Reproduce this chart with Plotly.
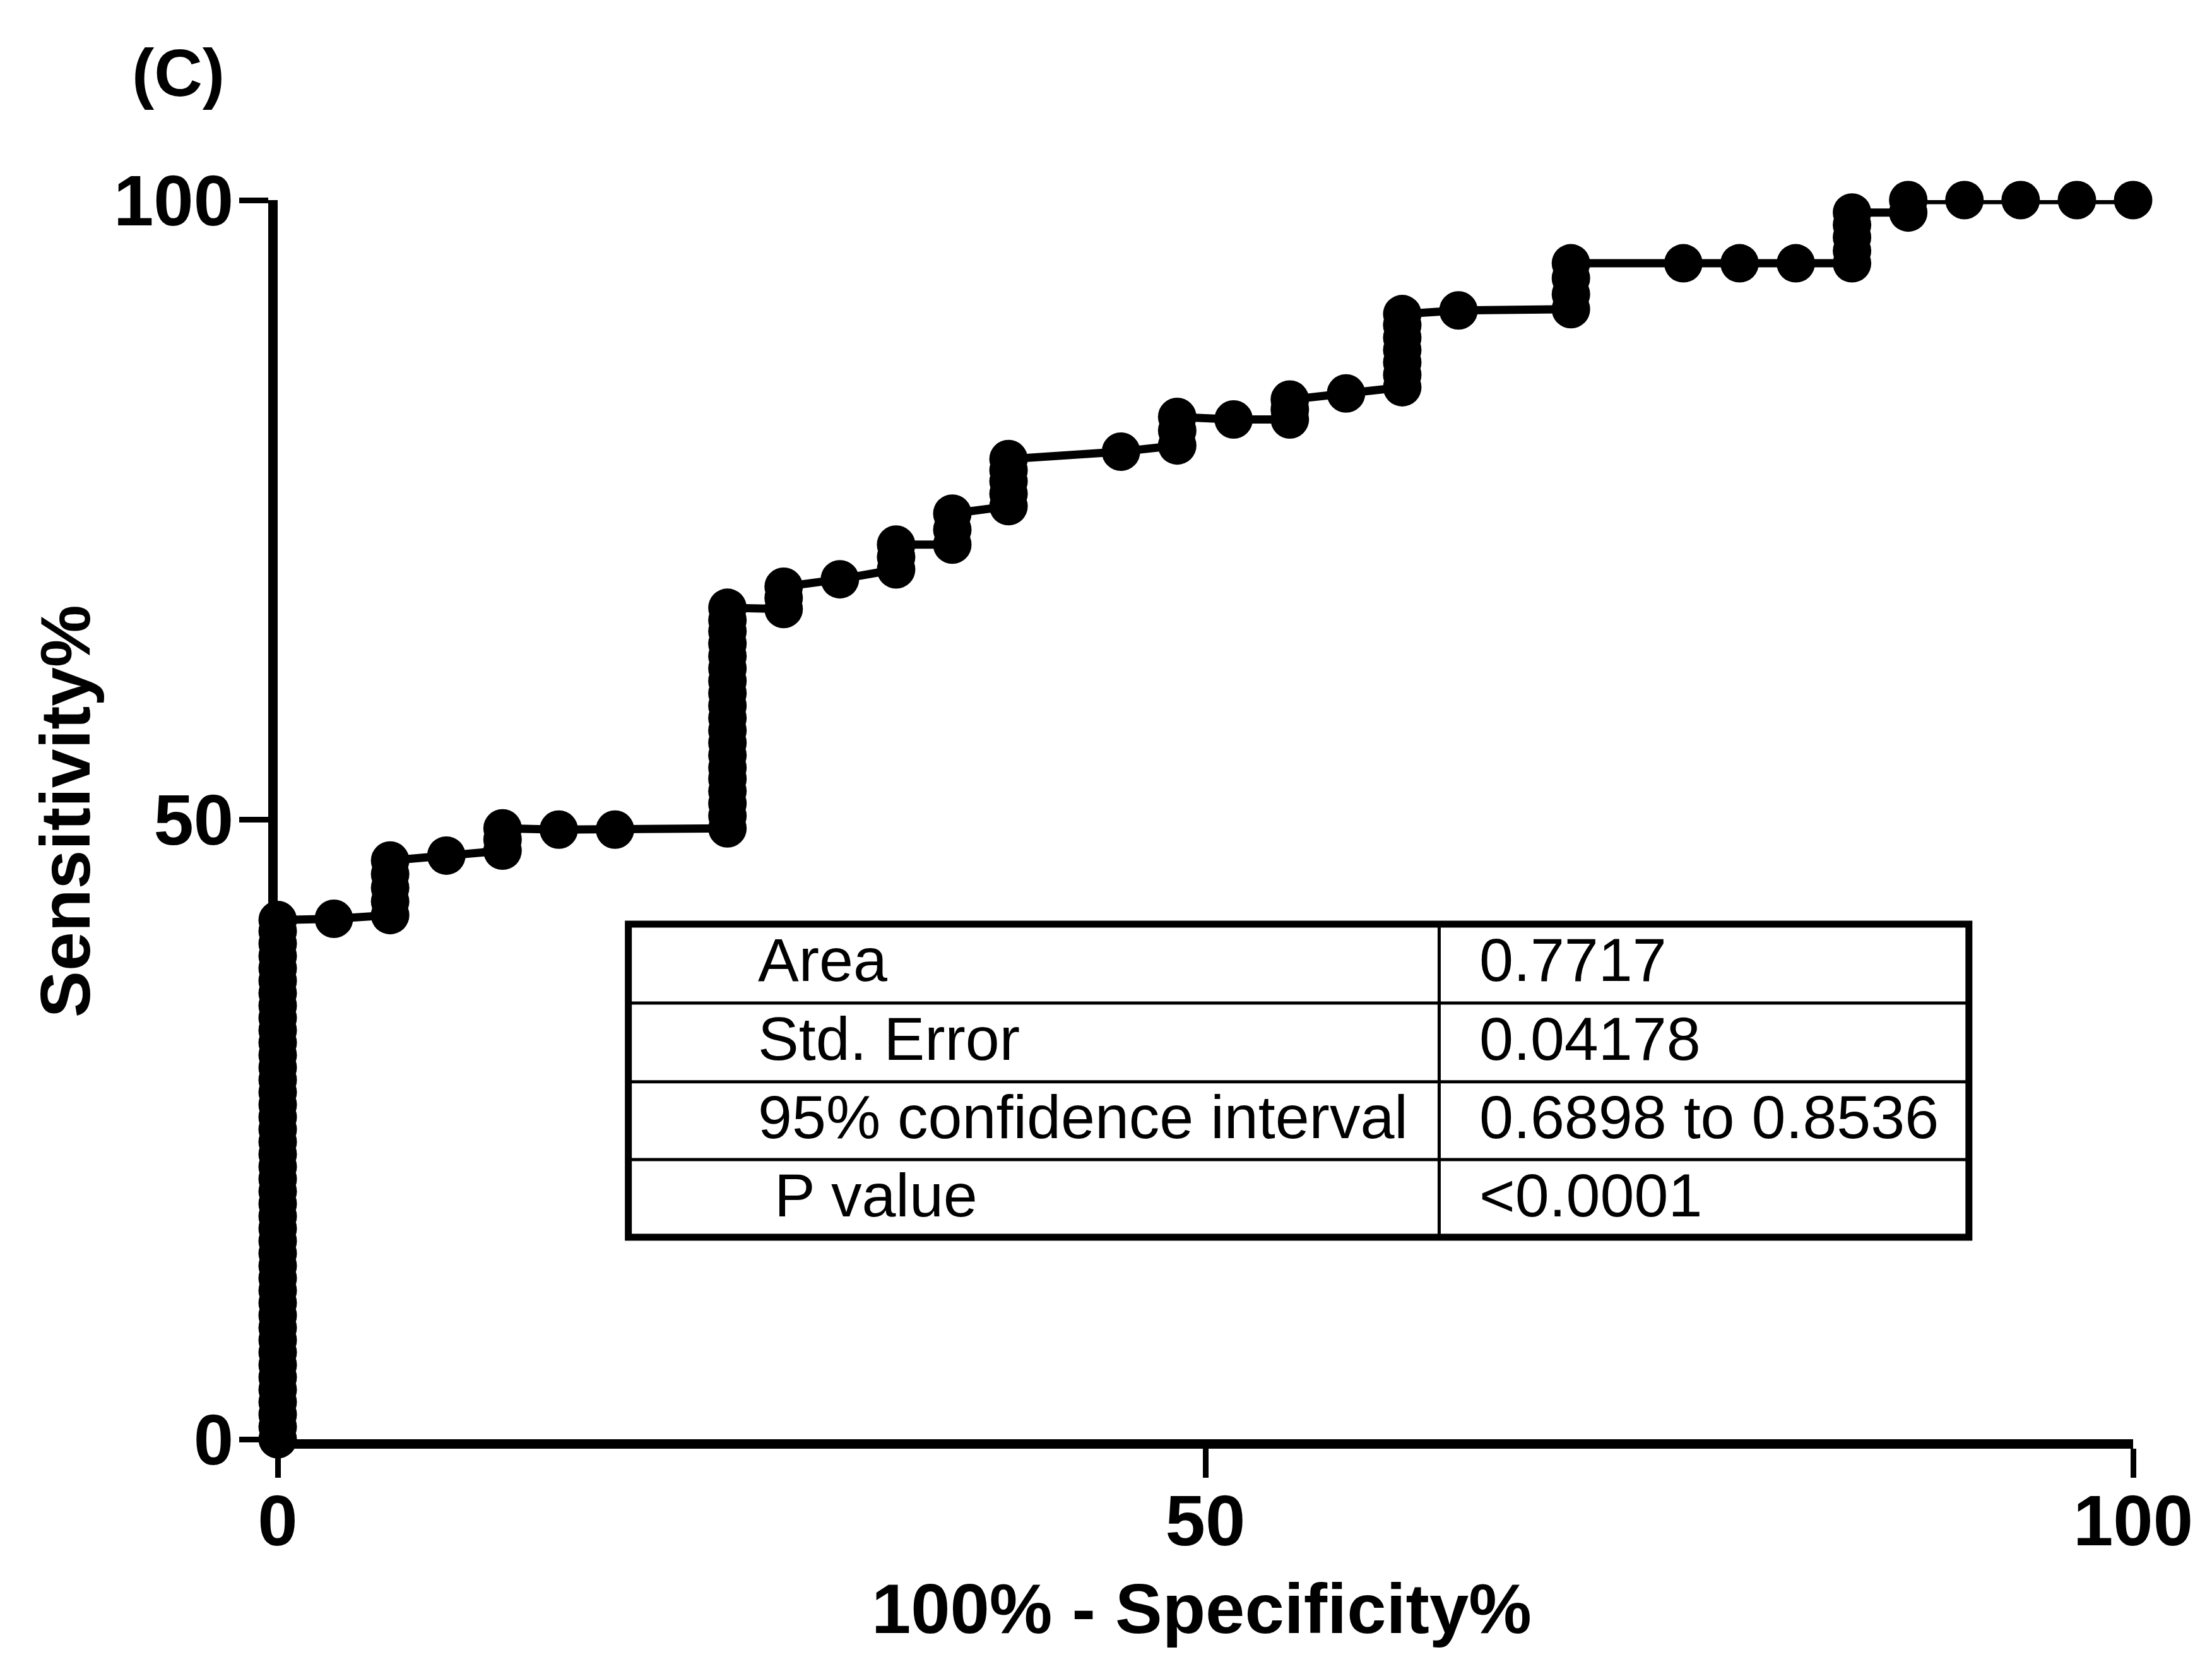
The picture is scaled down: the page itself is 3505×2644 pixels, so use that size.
import plotly.graph_objects as go

# ---------------- data ----------------
# 100% - Specificity% (x) and Sensitivity% (y) of every ROC point, in order
roc_fpr = [
    0, 0, 0, 0, 0, 0, 0, 0, 0, 0, 0, 0, 0, 0, 0, 0, 0, 0, 0, 0, 0, 0,
    0, 0, 0, 0, 0, 0, 0, 0, 0, 0, 0, 0, 0, 0, 0, 0, 0, 0, 0, 0, 0,
    3.03,
    6.06, 6.06, 6.06, 6.06, 6.06,
    9.09,
    12.12, 12.12, 12.12,
    15.15,
    18.18,
    24.24, 24.24, 24.24, 24.24, 24.24, 24.24, 24.24, 24.24, 24.24, 24.24,
    24.24, 24.24, 24.24, 24.24, 24.24, 24.24, 24.24, 24.24, 24.24,
    27.27, 27.27, 27.27,
    30.30,
    33.33, 33.33, 33.33,
    36.36, 36.36, 36.36,
    39.39, 39.39, 39.39, 39.39, 39.39,
    45.45,
    48.48, 48.48, 48.48,
    51.52,
    54.55, 54.55, 54.55,
    57.58,
    60.61, 60.61, 60.61, 60.61, 60.61, 60.61, 60.61,
    63.64,
    69.70, 69.70, 69.70, 69.70,
    75.76,
    78.79,
    81.82,
    84.85, 84.85, 84.85, 84.85, 84.85,
    87.88, 87.88,
    90.91,
    93.94,
    96.97,
    100.0,
]
roc_sens = [
    0, 1, 2, 3, 4, 5, 6, 7, 8, 9, 10, 11, 12, 13, 14, 15, 16, 17, 18, 19, 20, 21,
    22, 23, 24, 25, 26, 27, 28, 29, 30, 31, 32, 33, 34, 35, 36, 37, 38, 39, 40, 41, 41.9,
    42.0,
    42.3, 43.4, 44.5, 45.6, 46.7,
    47.1,
    47.5, 48.4, 49.3,
    49.2,
    49.2,
    49.3, 50.3, 51.3, 52.3, 53.3, 54.2, 55.2, 56.2, 57.2, 58.2,
    59.2, 60.2, 61.2, 62.2, 63.2, 64.2, 65.2, 66.1, 67.1,
    67.0, 67.9, 68.8,
    69.4,
    70.2, 71.2, 72.2,
    72.2, 73.4, 74.7,
    75.3, 76.3, 77.3, 78.2, 79.1,
    79.7,
    80.2, 81.4, 82.5,
    82.3,
    82.3, 83.1, 83.9,
    84.4,
    84.9, 85.9, 86.9, 87.9, 88.9, 89.9, 90.8,
    91.1,
    91.2, 92.4, 93.7, 94.9,
    94.9,
    94.9,
    94.9,
    94.9, 95.9, 97.0, 98.0, 99.0,
    99.0, 100.0,
    100.0,
    100.0,
    100.0,
    100.0,
]

tick_vals = [0, 50, 100]
tick_text = ["0", "50", "100"]

table_labels = ["Area", "Std. Error", "95% confidence interval", "P value"]
table_values = ["0.7717", "0.04178", "0.6898 to 0.8536", "<0.0001"]

panel_label = "(C)"
x_title = "100% - Specificity%"
y_title = "Sensitivity%"

# ---------------- styling / layout ----------------
FONT = "Liberation Sans, Arial, Helvetica, sans-serif"
# page body has an 8px margin, so the figure is drawn 8px in from the top-left
W, H = 3497, 2636
L, R, T, B = 432, 125, 309, 364

fig = go.Figure()
fig.add_trace(go.Scatter(
    x=roc_fpr, y=roc_sens, mode="lines+markers",
    line=dict(color="black", width=13),
    marker=dict(color="black", size=61, symbol="circle", line=dict(width=0)),
    cliponaxis=False, showlegend=False, hoverinfo="skip",
))

axis_common = dict(
    range=[0, 100], tickmode="array", tickvals=tick_vals, ticktext=tick_text,
    showgrid=False, zeroline=False, showline=True, linecolor="black", linewidth=15,
    ticks="outside", ticklen=46, tickwidth=9, tickcolor="black",
    tickfont=dict(family=FONT, size=114, color="black", weight="bold"),
    fixedrange=True,
)

fig.update_layout(
    width=W, height=H,
    margin=dict(l=L, r=R, t=T, b=B, autoexpand=False),
    paper_bgcolor="white", plot_bgcolor="white",
    xaxis=dict(**axis_common, ticklabelstandoff=-30),
    yaxis=dict(**axis_common, ticklabelstandoff=-14),
    showlegend=False,
)

# ---------------- table (layout box positions in data units) ----------------
tx0, tx1 = 18.9, 91.15
ty_top, ty_bot = 41.57, 16.30
col_div = 62.6
row_lines = [35.2, 28.85, 22.57]
row_centers = [38.7, 32.3, 26.0, 19.7]
label_x = [25.8, 25.8, 25.8, 26.7]
value_x = 64.7

shapes = []
shapes.append(dict(type="rect", xref="x", yref="y", x0=tx0, x1=tx1, y0=ty_bot, y1=ty_top,
                   line=dict(color="black", width=11), fillcolor="white", layer="above"))
for ry in row_lines:
    shapes.append(dict(type="line", xref="x", yref="y", x0=tx0, x1=tx1, y0=ry, y1=ry,
                       line=dict(color="black", width=5), layer="above"))
shapes.append(dict(type="line", xref="x", yref="y", x0=col_div, x1=col_div, y0=ty_bot, y1=ty_top,
                   line=dict(color="black", width=5), layer="above"))

annotations = []
for i, (lab, val) in enumerate(zip(table_labels, table_values)):
    annotations.append(dict(x=label_x[i], y=row_centers[i], xref="x", yref="y", text=lab,
                            showarrow=False, xanchor="left", yanchor="middle",
                            font=dict(family=FONT, size=97, color="black")))
    annotations.append(dict(x=value_x, y=row_centers[i], xref="x", yref="y", text=val,
                            showarrow=False, xanchor="left", yanchor="middle",
                            font=dict(family=FONT, size=97, color="black")))

annotations.append(dict(x=0.498, y=-0.137, xref="paper", yref="paper", text=x_title,
                        showarrow=False, xanchor="center", yanchor="middle",
                        font=dict(family=FONT, size=112, color="black", weight="bold")))
annotations.append(dict(x=-0.1145, y=0.507, xref="paper", yref="paper", text=y_title,
                        showarrow=False, xanchor="center", yanchor="middle", textangle=-90,
                        font=dict(family=FONT, size=111, color="black", weight="bold")))
annotations.append(dict(x=-0.0535, y=1.103, xref="paper", yref="paper", text=panel_label,
                        showarrow=False, xanchor="center", yanchor="middle",
                        font=dict(family=FONT, size=106, color="black", weight="bold")))

fig.update_layout(shapes=shapes, annotations=annotations)

fig.write_html("out.html")
